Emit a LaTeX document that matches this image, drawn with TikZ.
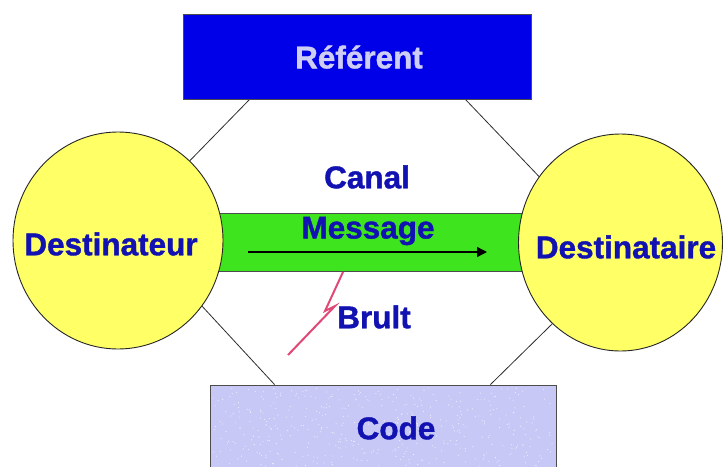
\documentclass[tikz,border=0pt]{standalone}
\usepackage{fontspec}
\setmainfont{Liberation Sans}[BoldFeatures={FakeBold=1.2}]
\usetikzlibrary{shapes.geometric,backgrounds,arrows.meta,calc}
\definecolor{refblue}{RGB}{0,0,232}
\definecolor{txtblue}{RGB}{18,18,178}
\definecolor{reftxt}{RGB}{205,205,245}
\definecolor{circyellow}{RGB}{255,255,102}
\definecolor{bargreen}{RGB}{62,228,30}
\definecolor{codefill}{RGB}{200,200,246}
\definecolor{boltred}{RGB}{224,72,118}
\definecolor{linegray}{RGB}{45,45,45}
\begin{document}
\begin{tikzpicture}[x=1pt,y=-1pt,
  lbl/.style={font=\bfseries\fontsize{31.5}{31.5}\selectfont, text=txtblue, inner sep=0pt},
  person/.style={ellipse, draw=black!85, line width=0.9pt, fill=circyellow, inner sep=0pt},
  box/.style={rectangle, draw=black!70, line width=0.8pt, inner sep=0pt},
  link/.style={draw=linegray, line width=0.8pt},
  bolt/.style={draw=boltred, line width=2pt, line join=miter},
  ]
\useasboundingbox (0,0) rectangle (723,466);
\clip (0,0) rectangle (723,466);

% boxes
\node[box, fill=refblue, minimum width=348pt, minimum height=85pt] (ref) at (357,56.5) {};
\node[box, fill=codefill, minimum width=346pt, minimum height=92pt] (codebox) at (383,431) {};
\pgfmathsetseed{7}
\foreach \i in {1,...,450} {
  \fill[white, opacity=0.75] ({213+rnd*340},{388+rnd*78}) circle (0.55);
}

% persons
\node[person, minimum width=210pt, minimum height=217pt] (dl) at (118,240.5) {};
\node[person, minimum width=204pt, minimum height=217pt] (dr) at (620.5,242.5) {};

% channel bar and connectors behind the circles
\begin{scope}[on background layer]
  \fill[white] (0,0) rectangle (723,466);
  \node[box, fill=bargreen, minimum width=316pt, minimum height=58pt] (bar) at (371,242) {};
  \draw[link] ($(ref.south west)+(67,0)$) -- (dl.48);
  \draw[link] ($(ref.south east)+(-66,0)$) -- (dr.141);
  \draw[link] (dl.-38) -- ($(codebox.north west)+(65,0)$);
  \draw[link] (dr.230) -- ($(codebox.north east)+(-66,0)$);
\end{scope}

% texts
\node[lbl, text=reftxt] (reft) at (359,57) {Référent};
\node[lbl] (canal) at (367,177) {Canal};
\node[lbl] (msg) at (368,231) {Message};
\node[lbl] (brult) at (374,317) {Brult};
\node[lbl] (code) at (396,428) {Code};
\node[lbl] (dlt) at (111,244) {Destinateur};
\node[lbl] (drt) at (626,247) {Destinataire};

% message arrow
\coordinate (a1) at (248,252);
\coordinate (a2) at (487,252);
\draw[line width=1.4pt, -{Triangle[length=10pt,width=10pt]}] (a1) -- (a2);

% noise bolt
\coordinate (b1) at (343,272);
\coordinate (b2) at (325,311);
\coordinate (b3) at (335,306);
\coordinate (b4) at (288,355);
\draw[bolt] (b1) -- (b2) -- (b3) -- (b4);
\end{tikzpicture}
\end{document}
